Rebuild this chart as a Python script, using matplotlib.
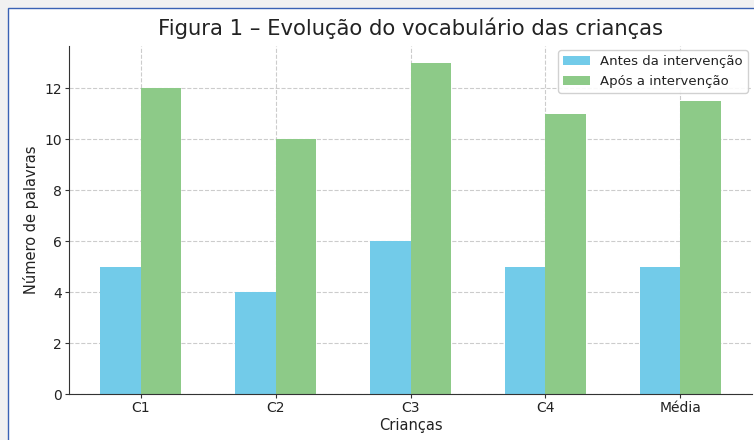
import matplotlib
matplotlib.use("Agg")
import matplotlib.pyplot as plt
import numpy as np
from matplotlib.patches import Rectangle

categories = ["C1", "C2", "C3", "C4", "Média"]
antes = [5, 4, 6, 5, 5]
apos = [12, 10, 13, 11, 11.5]

plt.rcParams['font.family'] = ['DejaVu Sans']
plt.rcParams['text.color'] = '#222222'
plt.rcParams['axes.labelcolor'] = '#222222'
plt.rcParams['xtick.color'] = '#333333'
plt.rcParams['ytick.color'] = '#333333'
plt.rcParams['xtick.labelcolor'] = '#222222'
plt.rcParams['ytick.labelcolor'] = '#222222'

fig = plt.figure(figsize=(7.54, 4.40), dpi=100)
fig.patch.set_facecolor("#f1f1f1")
fig.patches.append(Rectangle((8/754, -0.1), 1.1, (432/440) + 0.1, transform=fig.transFigure,
                             facecolor="white", edgecolor="#3a62b4", linewidth=1.0, zorder=-10))

ax = fig.add_axes([69/754, 46/440, (752-69)/754, (394-46)/440])
ax.set_facecolor("white")
x = np.arange(len(categories))
w = 0.3
ax.bar(x - w/2, antes, w, color="#72cbe9", label="Antes da intervenção", zorder=2)
ax.bar(x + w/2, apos, w, color="#8dca88", label="Após a intervenção", zorder=2)
ax.set_xticks(x)
ax.set_xticklabels(categories, fontsize=10)
ax.tick_params(axis='both', labelsize=10, length=3, pad=2)
ax.set_ylabel("Número de palavras", fontsize=10.5, labelpad=4)
ax.set_xlabel("Crianças", fontsize=10.5, labelpad=2)
ax.set_title("Figura 1 – Evolução do vocabulário das crianças", fontsize=15.2, color="#222222", pad=8)
ax.grid(True, linestyle="--", color="#cccccc", linewidth=0.8, zorder=0)
ax.set_axisbelow(True)
for s in ["top", "right"]:
    ax.spines[s].set_visible(False)
for s in ["left", "bottom"]:
    ax.spines[s].set_color("#333333")
ax.legend(loc="upper right", fontsize=9.5, frameon=True, fancybox=True, framealpha=0.9,
          borderaxespad=0.3)

fig.savefig("out.png", dpi=100, facecolor=fig.get_facecolor())
